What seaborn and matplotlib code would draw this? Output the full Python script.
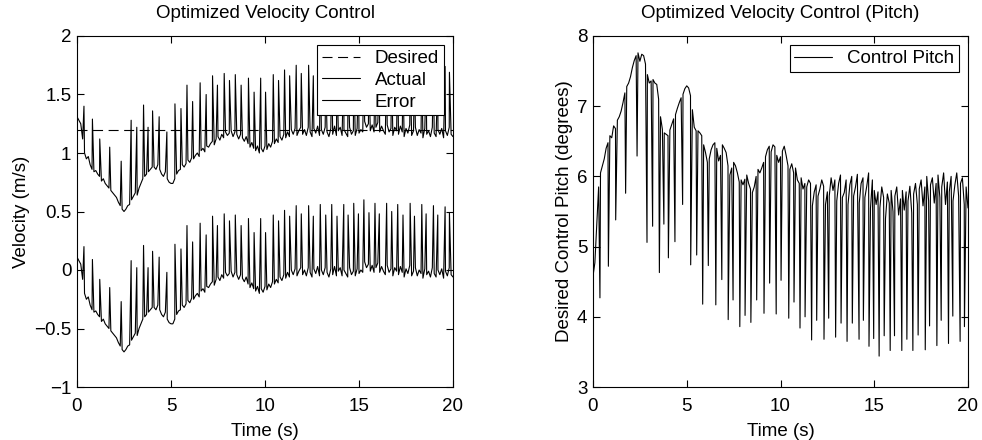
import numpy as np
import pandas as pd
import matplotlib
matplotlib.use("Agg")
import matplotlib.pyplot as plt
import seaborn as sns
from matplotlib.ticker import FuncFormatter

# ---------------- data ----------------
base_time = [i / 10 for i in range(201)]  # 0.0 .. 20.0 s, 0.1 s grid

velocity_base = [
    1.31, 1.28, 1.25, 1.12, 1.00, 0.95, 0.97, 0.90, 0.86, 0.84, 0.85,
    0.82, 0.80, 0.76, 0.78, 0.74, 0.72, 0.70, 0.68, 0.66, 0.64,
    0.62, 0.58, 0.55, 0.52, 0.50, 0.52, 0.55, 0.56, 0.60, 0.63,
    0.66, 0.64, 0.70, 0.74, 0.78, 0.80, 0.82, 0.84, 0.86, 0.88,
    0.88, 0.86, 0.90, 0.86, 0.82, 0.80, 0.84, 0.78, 0.75, 0.74,
    0.74, 0.78, 0.82, 0.85, 0.86, 0.90, 0.88, 0.91, 0.94, 0.92,
    0.96, 0.95, 0.98, 1.00, 0.97, 1.02, 1.04, 1.01, 1.06, 1.05,
    1.08, 1.10, 1.07, 1.12, 1.14, 1.11, 1.16, 1.13, 1.18, 1.15,
    1.17, 1.19, 1.14, 1.18, 1.16, 1.12, 1.16, 1.13, 1.10, 1.14,
    1.08, 1.05, 1.09, 1.04, 1.02, 1.06, 1.00, 1.04, 1.01, 1.06,
    1.03, 1.08, 1.05, 1.10, 1.08, 1.12, 1.09, 1.14, 1.11, 1.16,
    1.13, 1.18, 1.14, 1.20, 1.16, 1.21, 1.15, 1.19, 1.22, 1.16,
    1.20, 1.15, 1.22, 1.18, 1.14, 1.21, 1.17, 1.23, 1.15, 1.20,
    1.16, 1.22, 1.18, 1.14, 1.21, 1.16, 1.23, 1.15, 1.19, 1.22,
    1.15, 1.20, 1.17, 1.14, 1.22, 1.16, 1.19, 1.15, 1.21, 1.17,
    1.20, 1.18, 1.27, 1.22, 1.25, 1.19, 1.24, 1.18, 1.22, 1.26,
    1.18, 1.23, 1.19, 1.16, 1.24, 1.18, 1.21, 1.15, 1.22, 1.19,
    1.16, 1.23, 1.18, 1.14, 1.21, 1.17, 1.24, 1.15, 1.19, 1.22,
    1.15, 1.20, 1.17, 1.13, 1.21, 1.16, 1.19, 1.14, 1.22, 1.17,
    1.14, 1.20, 1.16, 1.21, 1.13, 1.19, 1.15, 1.22, 1.16, 1.14,
]

pitch_base = [
    4.58, 4.77, 5.30, 5.85, 6.05, 6.15, 6.25, 6.40, 6.48, 6.58, 6.55,
    6.72, 6.68, 6.80, 6.85, 6.93, 7.05, 7.19, 7.28, 7.33, 7.42,
    7.55, 7.65, 7.72, 7.76, 7.64, 7.74, 7.72, 7.60, 7.45, 7.33,
    7.36, 7.38, 7.33, 7.31, 7.10, 6.85, 6.67, 6.62, 6.60, 6.58,
    6.66, 6.74, 6.82, 6.88, 6.97, 7.05, 7.12, 7.17, 7.25, 7.29,
    7.26, 7.15, 6.95, 6.70, 6.65, 6.65, 6.62, 6.58, 6.45, 6.34,
    6.20, 6.25, 6.38, 6.45, 6.48, 6.40, 6.22, 6.30, 6.45, 6.40,
    6.34, 6.15, 6.02, 6.12, 6.20, 6.15, 6.05, 5.92, 5.95, 5.88,
    5.96, 6.02, 5.90, 5.82, 5.77, 5.85, 6.00, 6.10, 6.05, 6.12,
    6.20, 6.28, 6.38, 6.43, 6.35, 6.45, 6.42, 6.30, 6.20, 6.28,
    6.36, 6.43, 6.30, 6.15, 6.10, 6.18, 6.05, 6.12, 5.95, 5.90,
    5.98, 5.82, 5.90, 5.85, 5.95, 5.90, 5.58, 5.78, 5.88, 5.72,
    5.82, 5.95, 5.86, 5.60, 5.78, 5.72, 5.98, 5.80, 5.95, 5.65,
    5.90, 6.02, 5.70, 5.77, 5.95, 5.60, 5.88, 6.00, 5.72, 5.85,
    6.03, 5.62, 5.90, 5.98, 5.70, 5.86, 6.05, 5.55, 5.95, 5.80,
    5.60, 5.78, 5.55, 5.85, 5.70, 5.40, 5.75, 5.62, 5.80, 5.50,
    5.72, 5.85, 5.45, 5.68, 5.80, 5.52, 5.78, 5.65, 5.86, 5.48,
    5.75, 5.90, 5.60, 5.82, 5.95, 5.58, 5.85, 6.00, 5.65, 5.88,
    5.98, 5.62, 5.90, 6.02, 5.70, 5.85, 6.05, 5.60, 5.92, 5.78,
    6.00, 5.65, 5.88, 6.05, 5.72, 5.90, 5.98, 5.60, 5.85, 5.55,
]

# control update instants (single-sample spikes)
spike_time = [
    0.37, 0.82, 1.21, 1.74, 2.35, 2.88, 3.18, 3.54, 3.78, 4.02,
    4.37, 4.78, 5.21, 5.53, 5.85, 6.15, 6.55, 6.87, 7.21, 7.47,
    7.83, 8.11, 8.42, 8.73, 9.12, 9.42, 9.77, 10.03, 10.44, 10.72,
    11.04, 11.31, 11.66, 11.93, 12.32, 12.57, 12.94, 13.23, 13.55, 13.83,
    14.19, 14.42, 14.72, 14.97, 15.26, 15.53, 15.85, 16.08, 16.47, 16.74,
    17.06, 17.34, 17.72, 17.95, 18.34, 18.57, 18.96, 19.19, 19.58, 19.81,
]
velocity_spike = [
    1.40, 1.29, 1.12, 1.05, 0.93, 1.28, 1.22, 1.41, 1.22, 1.36,
    1.31, 1.18, 1.42, 1.38, 1.58, 1.44, 1.60, 1.50, 1.66, 1.58,
    1.68, 1.62, 1.67, 1.58, 1.64, 1.52, 1.64, 1.52, 1.67, 1.62,
    1.71, 1.66, 1.75, 1.68, 1.75, 1.66, 1.76, 1.67, 1.76, 1.66,
    1.76, 1.67, 1.77, 1.68, 1.80, 1.69, 1.77, 1.68, 1.77, 1.70,
    1.76, 1.67, 1.77, 1.66, 1.76, 1.68, 1.75, 1.67, 1.74, 1.69,
]
pitch_spike = [
    4.27, 4.72, 5.38, 5.76, 6.29, 5.06, 5.29, 4.63, 5.32, 4.84,
    5.07, 5.60, 4.74, 4.88, 4.18, 4.73, 4.17, 4.53, 3.96, 4.24,
    3.86, 4.02, 3.92, 4.24, 4.05, 4.48, 4.04, 4.52, 3.98, 4.21,
    3.84, 4.00, 3.67, 3.95, 3.68, 3.98, 3.71, 3.91, 3.65, 3.91,
    3.68, 3.95, 3.58, 3.69, 3.44, 3.73, 3.52, 3.73, 3.52, 3.68,
    3.52, 3.74, 3.53, 3.87, 3.59, 3.95, 3.62, 4.01, 3.65, 3.86,
]

desired_time = [0, 20]
desired_velocity = [1.2, 1.2]
desired_level = 1.2

# ---------------- style ----------------
sns.set_style("ticks")
plt.rcParams["font.family"] = ["Liberation Sans", "DejaVu Sans"]
FS = 13.5
plt.rcParams.update({
    "font.size": FS,
    "axes.edgecolor": "black",
    "axes.linewidth": 0.8,
    "xtick.color": "black",
    "ytick.color": "black",
    "text.color": "black",
    "axes.labelcolor": "black",
})

vel_df = pd.DataFrame({"t": base_time + spike_time,
                       "v": velocity_base + velocity_spike})
vel_df["err"] = vel_df["v"] - desired_level
pitch_df = pd.DataFrame({"t": base_time + spike_time,
                         "p": pitch_base + pitch_spike})
des_df = pd.DataFrame({"t": desired_time, "v": desired_velocity})

fig = plt.figure(figsize=(9.82, 4.40), dpi=100)
ax1 = fig.add_axes([77 / 982, 53 / 440, 376 / 982, 351 / 440])
ax2 = fig.add_axes([593 / 982, 53 / 440, 375 / 982, 351 / 440])

LW = 0.8
sns.lineplot(data=des_df, x="t", y="v", ax=ax1, color="black", lw=LW,
             linestyle=(0, (9, 5)), label="Desired")
sns.lineplot(data=vel_df, x="t", y="v", ax=ax1, color="black", lw=LW,
             sort=True, estimator=None, label="Actual")
sns.lineplot(data=vel_df, x="t", y="err", ax=ax1, color="black", lw=LW,
             sort=True, estimator=None, label="Error")
sns.lineplot(data=pitch_df, x="t", y="p", ax=ax2, color="black", lw=LW,
             sort=True, estimator=None, label="Control Pitch")

fmt = FuncFormatter(lambda v, p: ("%g" % v).replace("-", "\u2212"))

for ax in (ax1, ax2):
    ax.set_xlim(0, 20)
    ax.set_xticks([0, 5, 10, 15, 20])
    ax.tick_params(axis="both", direction="in", top=True, right=True,
                   length=5, width=0.8, labelsize=FS)
    ax.tick_params(axis="x", pad=8)
    ax.tick_params(axis="y", pad=4)
    ax.xaxis.set_major_formatter(fmt)
    ax.yaxis.set_major_formatter(fmt)
    ax.set_xlabel("Time (s)", fontsize=FS, labelpad=5.5)
    for s in ax.spines.values():
        s.set_visible(True)
        s.set_color("black")
        s.set_linewidth(0.8)

ax1.set_ylim(-1, 2)
ax1.set_yticks([-1, -0.5, 0, 0.5, 1, 1.5, 2])
ax1.set_ylabel("Velocity (m/s)", fontsize=FS, labelpad=3)
ax1.set_title("Optimized Velocity Control", fontsize=FS, pad=13)

ax2.set_ylim(3, 8)
ax2.set_yticks([3, 4, 5, 6, 7, 8])
ax2.set_ylabel("Desired Control Pitch (degrees)", fontsize=FS, labelpad=3)
ax2.set_title("Optimized Velocity Control (Pitch)", fontsize=FS, pad=13)

for ax in (ax1, ax2):
    leg = ax.legend(loc="upper right", fontsize=FS, frameon=True,
                    fancybox=False, framealpha=1, edgecolor="black",
                    borderpad=0.25, labelspacing=0.25, handlelength=2.0,
                    handletextpad=0.8, borderaxespad=0.5)
    leg.get_frame().set_linewidth(0.8)

fig.savefig("out.png", dpi=100)
